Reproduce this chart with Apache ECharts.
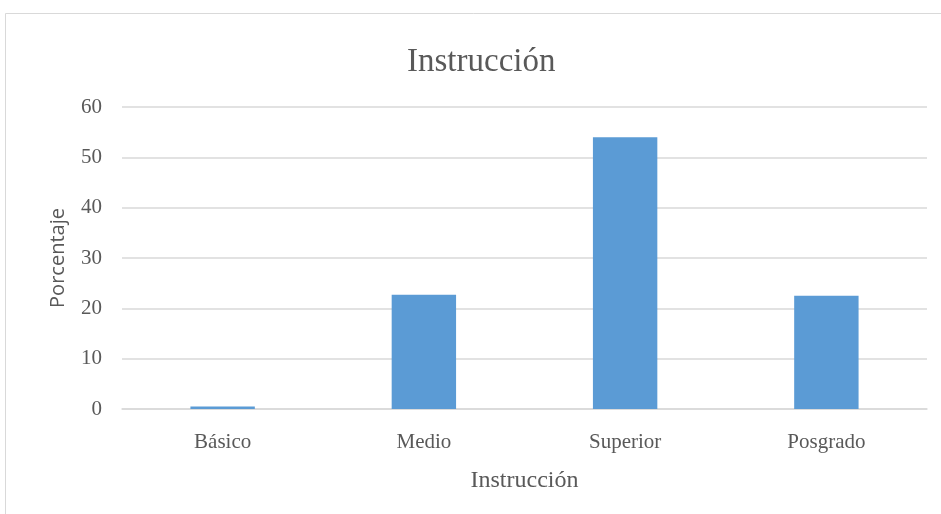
<!DOCTYPE html>
<html>
<head>
<meta charset="utf-8">
<script src="https://cdn.jsdelivr.net/npm/echarts@6/dist/echarts.min.js"></script>
<style>
  html, body { margin: 0; padding: 0; background: #ffffff; }
  #chart { width: 941px; height: 514px; }
</style>
</head>
<body>
<div id="chart"></div>
<script>
// Nivel de instrucción (porcentaje)
const categories = ['Básico', 'Medio', 'Superior', 'Posgrado'];
const porcentajes = [0.5, 22.7, 54.0, 22.5];
const yTicks = { min: 0, max: 60, interval: 10 };

const chart = echarts.init(document.getElementById('chart'), null, { renderer: 'canvas' });

const serif = '"Liberation Serif", "Times New Roman", serif';
const textGray = '#595959';

chart.setOption({
  animation: false,
  backgroundColor: '#ffffff',
  graphic: [{
    type: 'rect',
    shape: { x: 5.5, y: 13.5, width: 1000, height: 600 },
    style: { fill: 'none', stroke: '#d9d9d9', lineWidth: 1 },
    silent: true
  }],
  title: {
    text: 'Instrucción',
    left: 402,
    top: 41,
    textStyle: { fontFamily: serif, fontSize: 33, fontWeight: 'normal', color: textGray }
  },
  grid: { left: 122, top: 107, width: 805, height: 302, containLabel: false },
  xAxis: {
    type: 'category',
    data: categories,
    name: 'Instrucción',
    nameLocation: 'middle',
    nameGap: 60,
    nameTextStyle: { fontFamily: serif, fontSize: 24, color: textGray },
    axisLine: { show: true, lineStyle: { color: '#d9d9d9', width: 1.5 } },
    axisTick: { show: false },
    axisLabel: { fontFamily: serif, fontSize: 21, color: textGray, margin: 23 }
  },
  yAxis: {
    type: 'value',
    min: yTicks.min,
    max: yTicks.max,
    interval: yTicks.interval,
    name: 'Porcentaje',
    nameLocation: 'middle',
    nameGap: 54,
    nameRotate: 90,
    nameTextStyle: { fontFamily: '"Open Sans", "Noto Sans", sans-serif', fontSize: 20, color: textGray },
    axisLine: { show: false },
    axisTick: { show: false },
    axisLabel: { fontFamily: serif, fontSize: 21, color: textGray, margin: 20 },
    splitLine: { show: true, lineStyle: { color: '#d9d9d9', width: 1.5 } }
  },
  series: [{
    type: 'bar',
    data: porcentajes,
    barWidth: '32%',
    itemStyle: { color: '#5b9bd5' }
  }]
});
</script>
</body>
</html>
